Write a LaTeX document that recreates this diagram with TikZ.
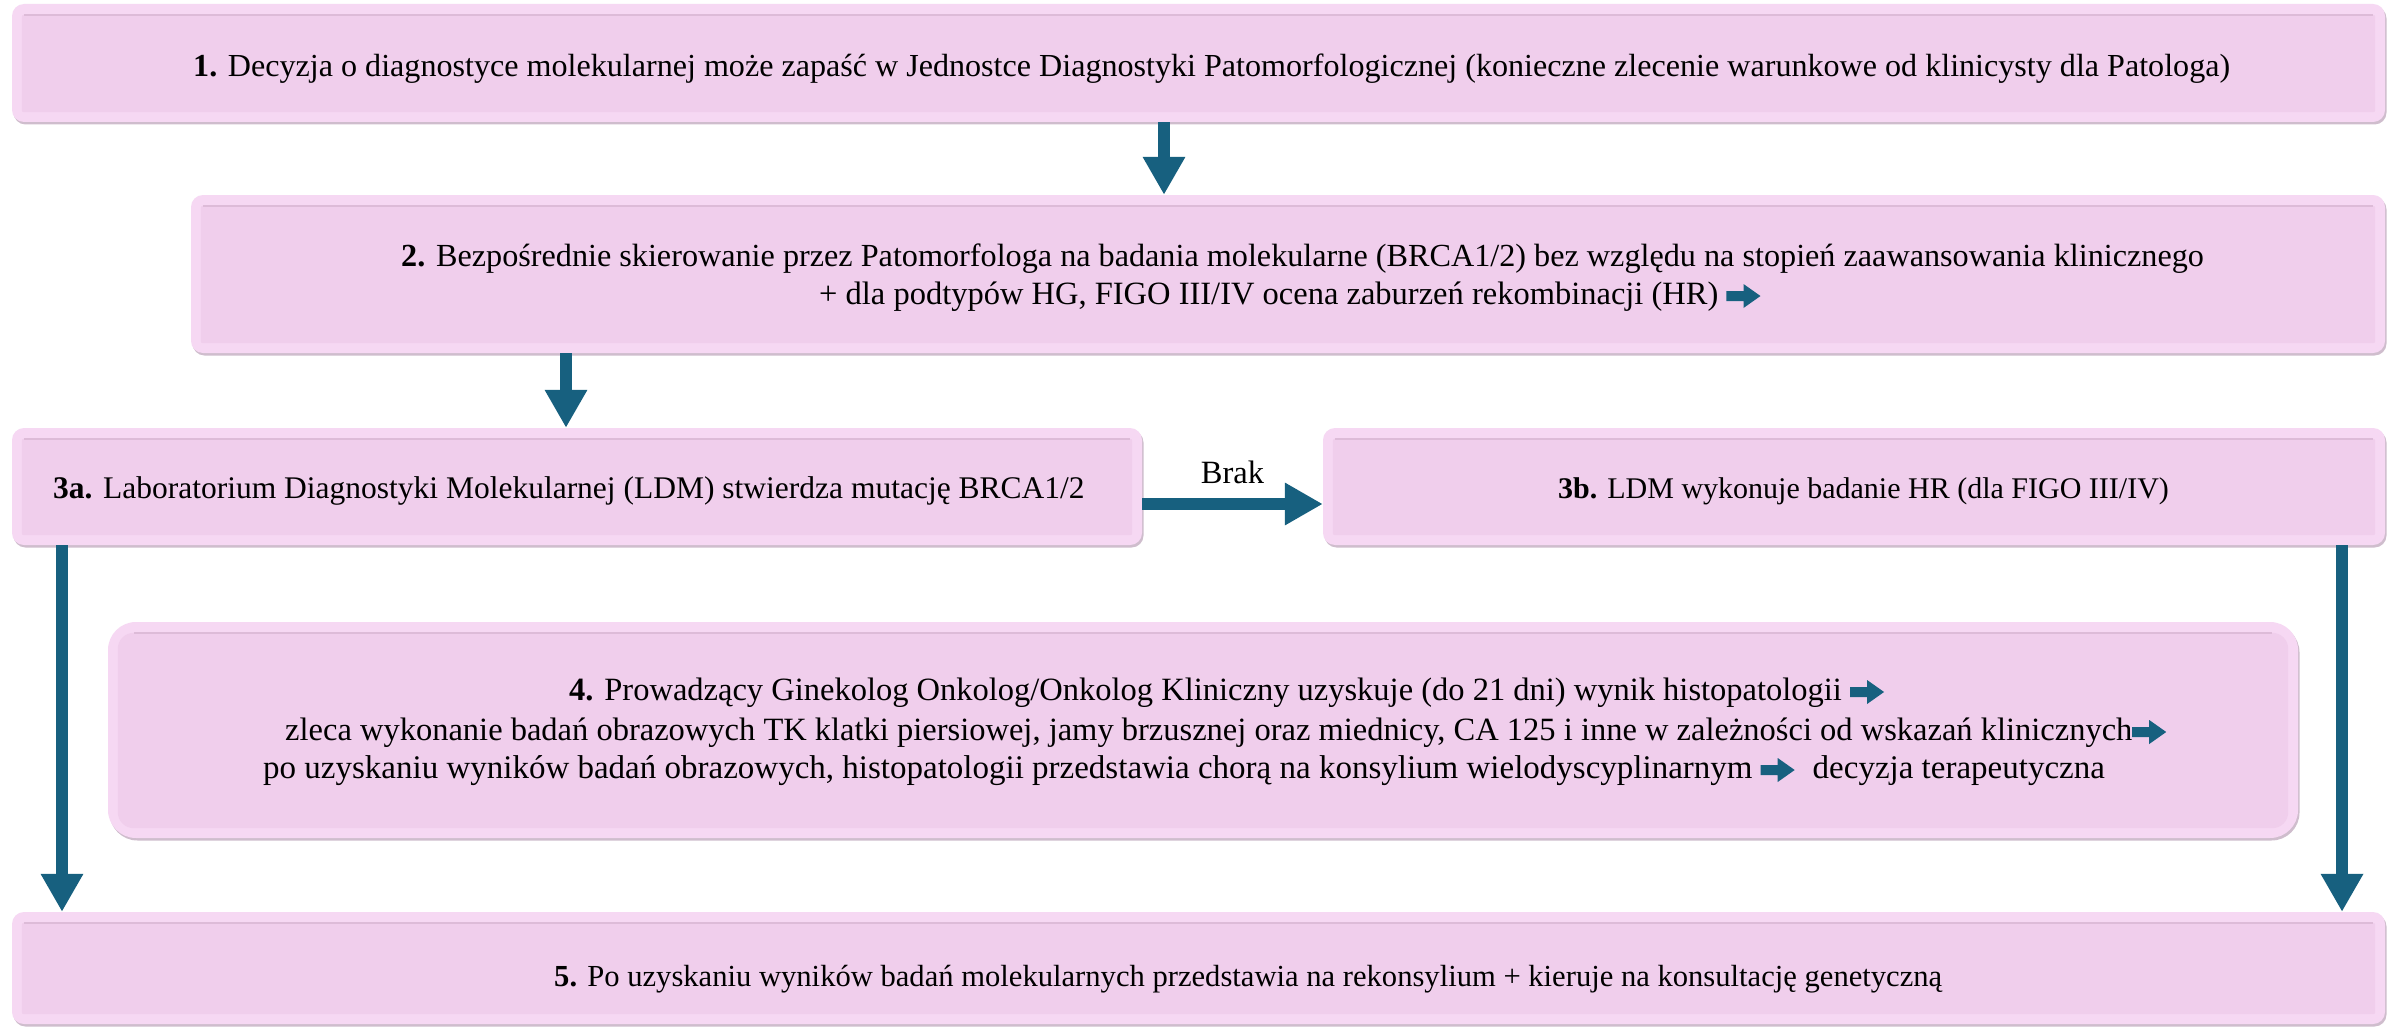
\documentclass[tikz,border=0pt]{standalone}
\usepackage{fontspec}
\setmainfont{Liberation Serif}
\newfontfamily\tnr{Liberation Serif}
\usetikzlibrary{arrows.meta,fit,shadows}
\definecolor{pinkout}{HTML}{F6D8F3}
\definecolor{pinkin}{HTML}{F0CEEC}
\definecolor{bevelc}{HTML}{DDBBD8}
\definecolor{shadowc}{HTML}{A888A4}
\definecolor{arrowc}{HTML}{17607F}
\pgfdeclarelayer{bg}
\pgfsetlayers{bg,main}
\newcommand\rarr{\tikz[baseline=0pt,x=1pt,y=1pt]\fill[arrowc](0,3)--(17,3)--(17,-4)--(34,8)--(17,20)--(17,13)--(0,13)--cycle;}
\newcommand\pbox[7]{%
  \node[boxout, rounded corners=#6, fit={(#2,#3) (#4,#5)}] (#1) {};
  \fill[boxin, rounded corners=#7] ([shift={(10,11)}]#1.north west) rectangle ([shift={(-10,-10)}]#1.south east);
  \draw[bevel] ([shift={(10+#7,11)}]#1.north west) -- ([shift={(-10-#7,11)}]#1.north east);}
\begin{document}
\begin{tikzpicture}[x=1pt,y=-1pt,
  boxout/.style={inner sep=0pt, fill=pinkout,
     drop shadow={shadow xshift=1.5pt, shadow yshift=-2.5pt, fill=shadowc, opacity=0.55}},
  boxin/.style={fill=pinkin},
  bevel/.style={draw=bevelc, line width=2pt},
  conn/.style={draw=arrowc, line width=12pt, -{Triangle[length=38pt,width=40pt]}},
  txt/.style={font=\tnr\fontsize{#1}{38}\selectfont, inner sep=0pt, anchor=base west},
  txt/.default=32.5]
\useasboundingbox[fill=white] (0,0) rectangle (2400,1030);

% boxes
\pbox{b1}{12}{4}{2385}{122}{12}{2}
\pbox{b2}{191}{195}{2385}{353}{12}{2}
\pbox{b3a}{12}{428}{1142}{545}{12}{2}
\pbox{b3b}{1323}{428}{2385}{545}{12}{2}
\pbox{b4}{108}{622}{2298}{838}{28}{16}
\pbox{b5}{12}{912}{2385}{1024}{12}{2}

% texts
\node[txt=32.1] (t1) at (193,77) {\textbf{1.} Decyzja o diagnostyce molekularnej może zapaść w Jednostce Diagnostyki Patomorfologicznej (konieczne zlecenie warunkowe od klinicysty dla Patologa)};
\node[txt=32.2] (t2a) at (401,266) {\textbf{2.} Bezpośrednie skierowanie przez Patomorfologa na badania molekularne (BRCA1/2) bez względu na stopień zaawansowania klinicznego};
\node[txt] (t2b) at (819,304) {+ dla podtypów HG, FIGO III/IV ocena zaburzeń rekombinacji (HR) \rarr};
\node[txt=31.5] (t3a) at (53,498) {\textbf{3a.} Laboratorium Diagnostyki Molekularnej (LDM) stwierdza mutację BRCA1/2};
\node[txt=30] (t3b) at (1558,498) {\textbf{3b.} LDM wykonuje badanie HR (dla FIGO III/IV)};
\node[txt] (t4a) at (569,700) {\textbf{4.} Prowadzący Ginekolog Onkolog/Onkolog Kliniczny uzyskuje (do 21 dni) wynik histopatologii \rarr};
\node[txt] (t4b) at (285,740) {zleca wykonanie badań obrazowych TK klatki piersiowej, jamy brzusznej oraz miednicy, CA 125 i inne w zależności od wskazań klinicznych\rarr};
\node[txt=33] (t4c) at (263,778) {po uzyskaniu wyników badań obrazowych, histopatologii przedstawia chorą na konsylium wielodyscyplinarnym \rarr\hspace{18pt}decyzja terapeutyczna};
\node[txt=30.6] (t5) at (554,986) {\textbf{5.} Po uzyskaniu wyników badań molekularnych przedstawia na rekonsylium + kieruje na konsultację genetyczną};

% connector columns
\coordinate (xa) at (152,0);
\coordinate (xb) at (1164,0);
\coordinate (xc) at (566,0);
\coordinate (xd) at (62,0);
\coordinate (xe) at (2342,0);
\coordinate (yb) at (0,504);

\begin{pgfonlayer}{bg}
\draw[conn] (b1.south -| xa) -- (b4.north -| xa);
\end{pgfonlayer}
\draw[conn] (b1.south -| xb) -- (b2.north -| xb);
\draw[conn] (b2.south -| xc) -- (b3a.north -| xc);
\draw[conn] (b3a.east |- yb) -- node[txt, anchor=base, above=14pt] (brak) {Brak} (b3b.west |- yb);
\draw[conn] (b3a.south -| xd) -- (b5.north -| xd);
\draw[conn] (b3b.south -| xe) -- (b5.north -| xe);
\end{tikzpicture}
\end{document}
